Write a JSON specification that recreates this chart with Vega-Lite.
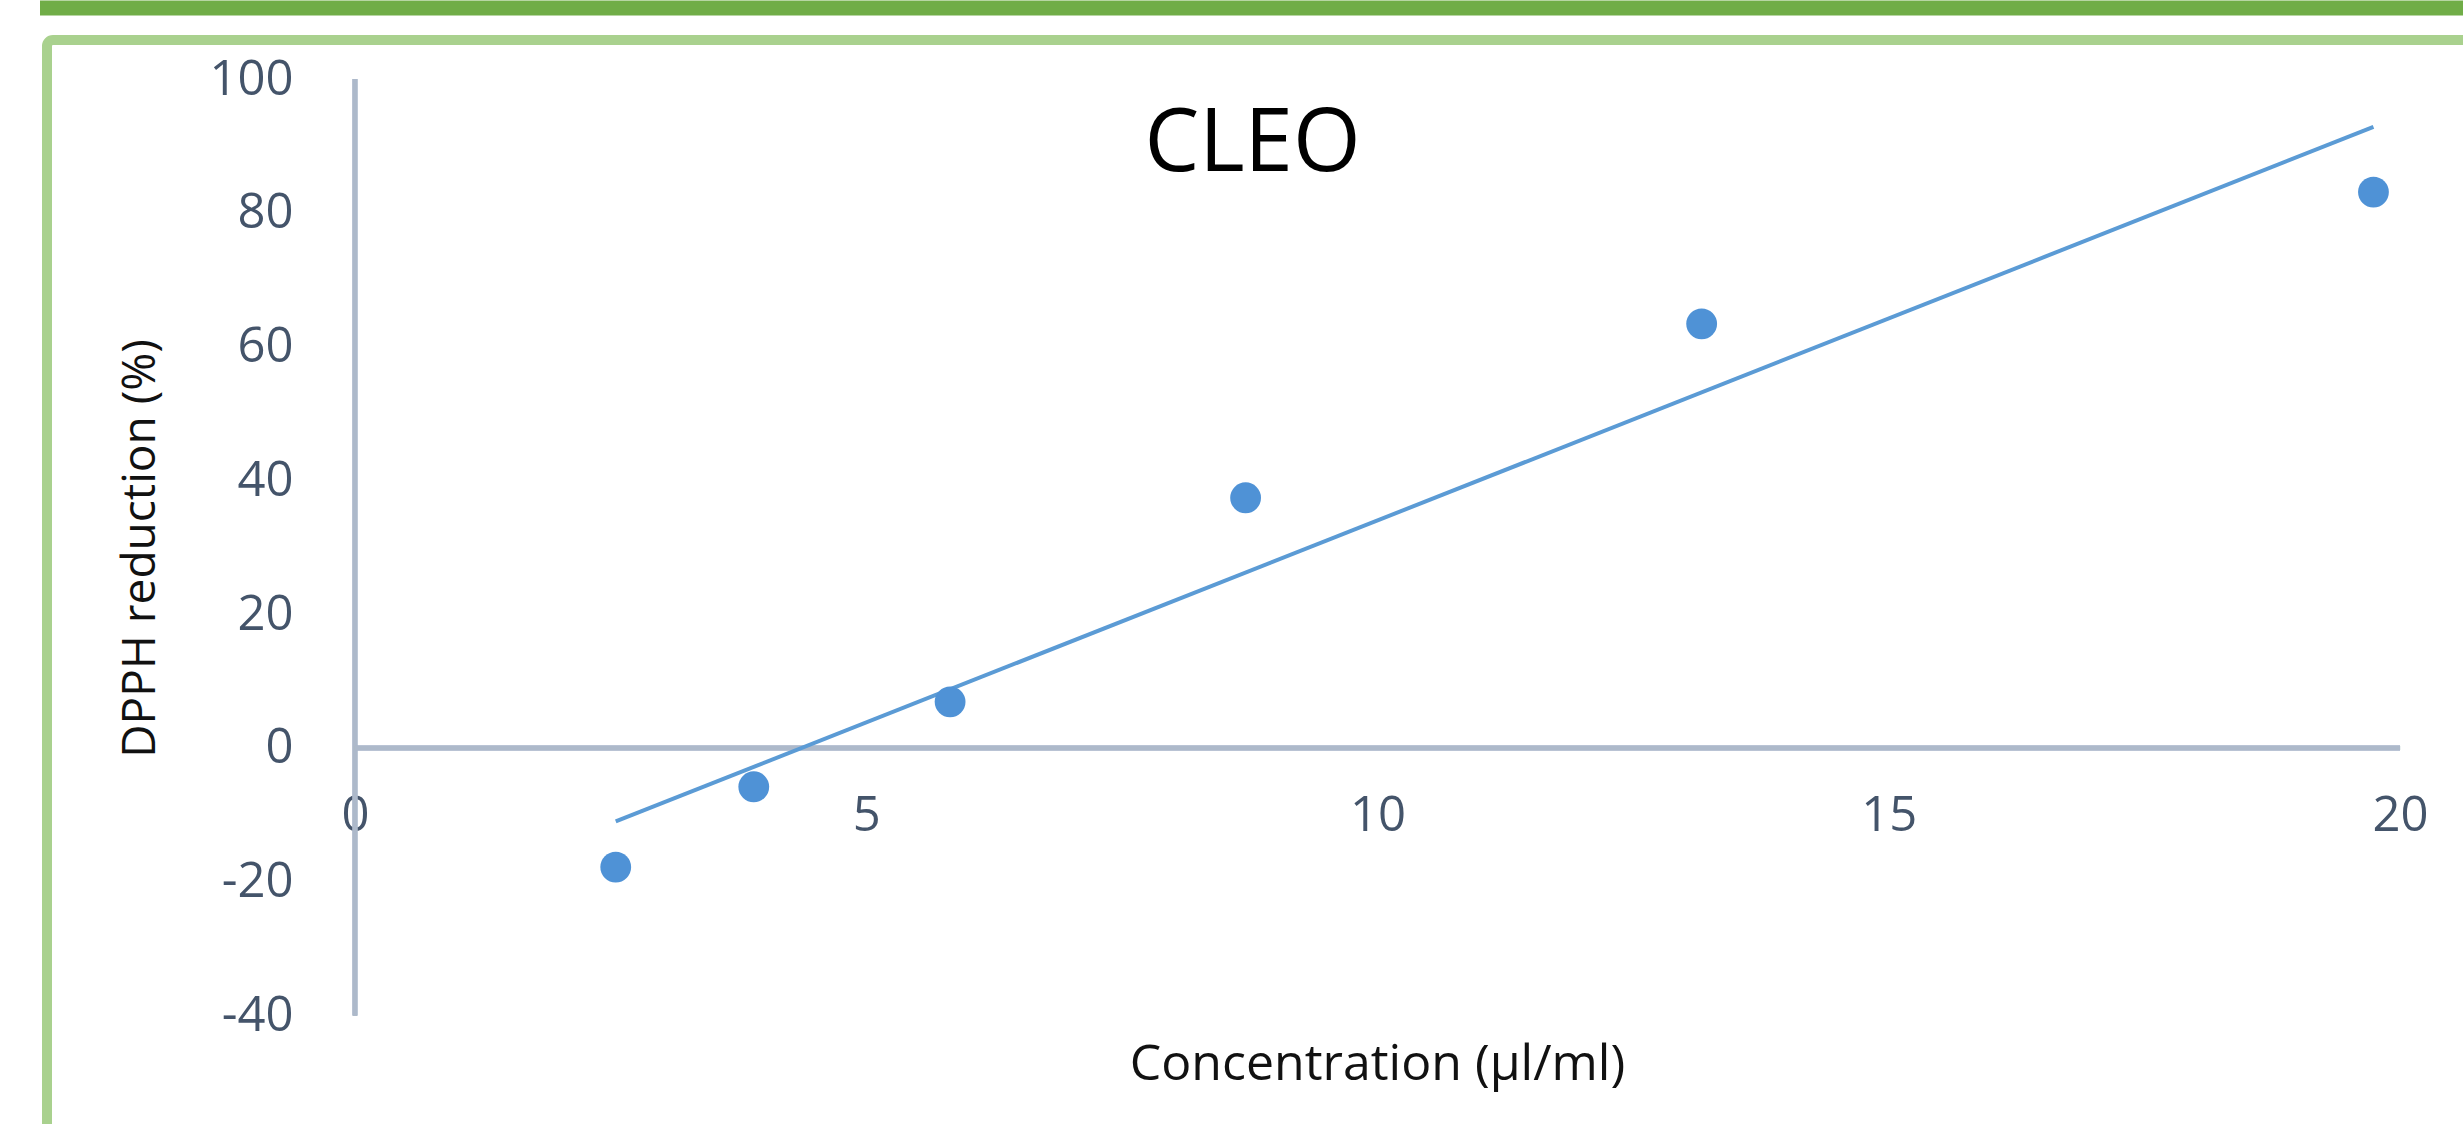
{
  "$schema": "https://vega.github.io/schema/vega-lite/v6.json",
  "autosize": {"type": "none"},
  "padding": {"left": 47, "top": 40, "right": -17, "bottom": -16},
  "width": 2433,
  "height": 1100,
  "background": "white",
  "title": {
    "text": "CLEO",
    "frame": "group",
    "anchor": "middle",
    "orient": "top",
    "baseline": "middle",
    "offset": -96,
    "dx": -11,
    "dy": 128,
    "font": "Open Sans",
    "fontSize": 87,
    "fontWeight": "normal",
    "color": "#000000"
  },
  "data": {
    "values": [
      {"x": 2.55, "y": -17.8},
      {"x": 3.90, "y": -5.8},
      {"x": 5.82, "y": 6.9},
      {"x": 8.71, "y": 37.4},
      {"x": 13.17, "y": 63.4},
      {"x": 19.74, "y": 83.1}
    ]
  },
  "resolve": {"axis": {"x": "independent", "y": "independent"}},
  "layer": [
    {
      "mark": {"type": "rule", "color": "#ADB9CA", "strokeWidth": 4.5},
      "encoding": {
        "x": {"datum": 0, "type": "quantitative", "scale": {"domain": [-3.012, 20.782], "nice": false, "zero": false}, "axis": null},
        "y": {"datum": -40, "type": "quantitative", "scale": {"domain": [-58.6, 105.83], "nice": false, "zero": false}, "axis": null},
        "y2": {"datum": 100}
      }
    },
    {
      "mark": {"type": "rule", "color": "#ADB9CA", "strokeWidth": 4.5},
      "encoding": {
        "x": {"datum": 0, "type": "quantitative", "scale": {"domain": [-3.012, 20.782], "nice": false, "zero": false}, "axis": null},
        "x2": {"datum": 20},
        "y": {"datum": 0, "type": "quantitative", "scale": {"domain": [-58.6, 105.83], "nice": false, "zero": false}, "axis": null}
      }
    },
    {
      "transform": [{"regression": "y", "on": "x"}],
      "mark": {"type": "line", "color": "#5B9BD5", "strokeWidth": 4},
      "encoding": {
        "x": {
          "field": "x", "type": "quantitative",
          "scale": {"domain": [-3.012, 20.782], "nice": false, "zero": false},
          "axis": {
            "orient": "top", "offset": 32.5, "domainColor": "#70AD47", "domainWidth": 15, "domainCap": "square",
            "labels": false, "ticks": false, "grid": false, "title": null
          }
        },
        "y": {
          "field": "y", "type": "quantitative",
          "scale": {"domain": [-58.6, 105.83], "nice": false, "zero": false},
          "axis": null
        }
      }
    },
    {
      "mark": {"type": "circle", "color": "#4F92D6", "opacity": 1, "size": 950},
      "encoding": {
        "x": {
          "field": "x", "type": "quantitative",
          "scale": {"domain": [-3.012, 20.782], "nice": false, "zero": false},
          "axis": {
            "orient": "bottom", "offset": -392, "domain": false, "ticks": false, "tickSize": 0, "grid": false,
            "values": [0, 5, 10, 15, 20],
            "labelPadding": 67, "labelBaseline": "middle", "labelAlign": "center",
            "labelFont": "Open Sans", "labelFontSize": 49, "labelColor": "#44546A",
            "title": "Concentration (µl/ml)",
            "titleX": 1330, "titleY": 316, "titleBaseline": "middle", "titleAlign": "center",
            "titleFont": "Open Sans", "titleFontSize": 50, "titleFontWeight": "normal", "titleColor": "#111111"
          }
        },
        "y": {
          "field": "y", "type": "quantitative",
          "scale": {"domain": [-58.6, 105.83], "nice": false, "zero": false},
          "axis": {
            "orient": "left", "offset": -308, "domain": false, "ticks": false, "tickSize": 0, "grid": false,
            "values": [-40, -20, 0, 20, 40, 60, 80, 100],
            "labelExpr": "replace(datum.label, '\u2212', '-')",
            "labelPadding": 62, "labelBaseline": "middle", "labelAlign": "right",
            "labelFont": "Open Sans", "labelFontSize": 49, "labelColor": "#44546A",
            "title": "DPPH reduction (%)",
            "titleX": -215, "titleY": 508, "titleBaseline": "middle", "titleAlign": "center", "titleAngle": -90,
            "titleFont": "Open Sans", "titleFontSize": 46, "titleFontWeight": "normal", "titleColor": "#111111"
          }
        }
      }
    }
  ],
  "config": {
    "view": {"stroke": "#A9D18E", "strokeWidth": 10, "cornerRadius": 6, "fill": "white"}
  }
}
